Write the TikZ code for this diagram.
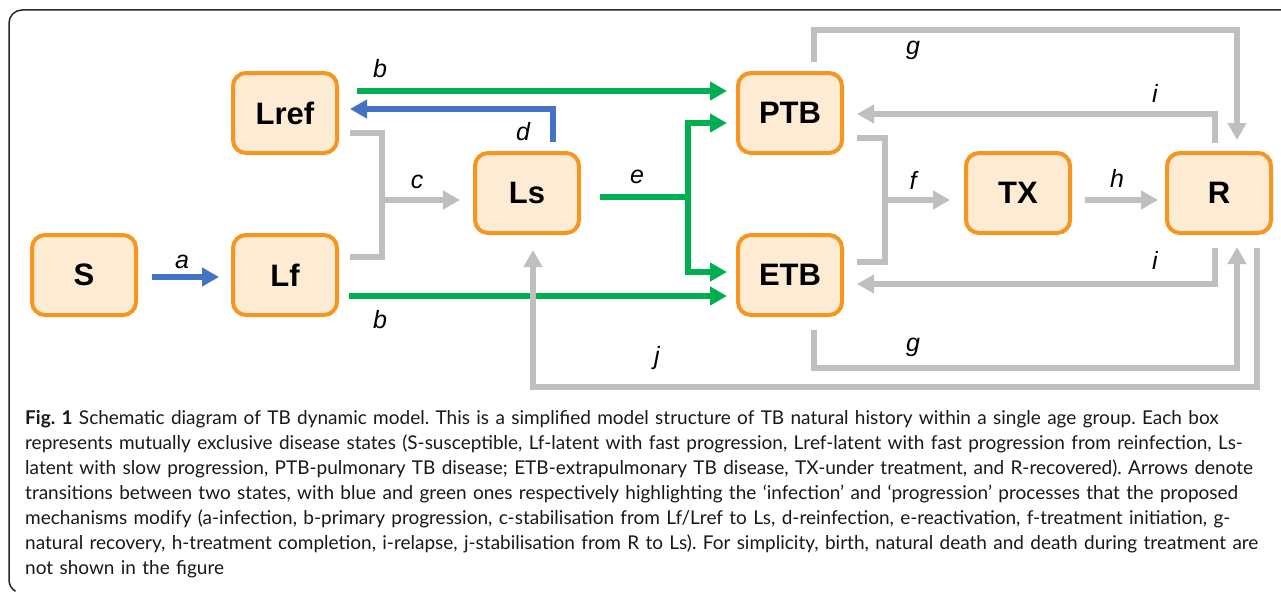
\documentclass[tikz,border=0pt]{standalone}
\usepackage{fontspec}
\setmainfont{Lato}
\newfontfamily\arialf{Liberation Sans}
\usetikzlibrary{arrows.meta,calc}
\definecolor{boxorange}{RGB}{247,150,30}
\definecolor{boxfill}{RGB}{253,235,212}
\definecolor{tbgreen}{RGB}{0,176,80}
\definecolor{tbblue}{RGB}{68,114,196}
\definecolor{tbgray}{RGB}{191,191,191}
\begin{document}
\frenchspacing
\begin{tikzpicture}[x=1pt,y=-1pt,
  state/.style={draw=boxorange, fill=boxfill, line width=4pt, rounded corners=13pt,
    minimum width=104pt, minimum height=80pt, inner sep=0pt,
    font=\arialf\bfseries\fontsize{31}{31}\selectfont},
  conn/.style={line width=6pt},
  tip/.style={-{Triangle[length=17pt,width=18pt]}},
  lbl/.style={font=\arialf\itshape\fontsize{25}{25}\selectfont, inner sep=0pt},
]
\fill[white] (0,0) rectangle (1281,594);
\useasboundingbox (0,0) rectangle (1281,594);

% frame
\draw[line width=1.5pt, black!85] (1281,10) -- (22,10)
  arc[start angle=270, end angle=180, radius=13] -- (9,580)
  arc[start angle=180, end angle=120, radius=13];

% states
\node[state] (S)    at (84,275)   {S};
\node[state] (Lf)   at (285,275)  {Lf};
\node[state] (Lref) at (285,113)  {Lref};
\node[state] (Ls)   at (527,193)  {Ls};
\node[state] (PTB)  at (790,113)  {PTB};
\node[state] (ETB)  at (790,275)  {ETB};
\node[state] (TX)   at (1018,193) {TX};
\node[state] (R)    at (1219,193) {R};

% a
\draw[conn,tbblue,tip] ($(S.east)+(14,2)$) -- ($(Lf.west)+(-12,2)$);
% b
\draw[conn,tbgreen,tip] ($(Lref.east)+(18,-22)$) -- ($(PTB.west)+(-9,-22)$);
\draw[conn,tbgreen,tip] ($(Lf.east)+(10,21)$) -- ($(ETB.west)+(-9,21)$);
% d
\draw[conn,tbblue,tip] ($(Ls.north)+(26,-9)$) |- ($(Lref.east)+(11,-4)$);
% c
\coordinate (cj) at ($(Ls.west)+(-91,7)$);
\draw[conn,tbgray] ($(Lref.east)+(11,20)$) -| (cj) |- ($(Lf.east)+(11,-18)$);
\draw[conn,tbgray,tip] (cj) -- ($(Ls.west)+(-13,7)$);
% e
\coordinate (ej) at ($(Ls.east)+(107,4)$);
\draw[conn,tbgreen] ($(Ls.east)+(19,4)$) -- (ej);
\draw[conn,tbgreen,tip] (ej) |- ($(PTB.west)+(-9,10)$);
\draw[conn,tbgreen,tip] (ej) |- ($(ETB.west)+(-9,-3)$);
% f
\coordinate (fj) at ($(TX.west)+(-79,7)$);
\draw[conn,tbgray] ($(PTB.east)+(13,25)$) -| (fj) |- ($(ETB.east)+(13,-13)$);
\draw[conn,tbgray,tip] (fj) -- ($(TX.west)+(-14,7)$);
% h
\draw[conn,tbgray,tip] ($(TX.east)+(13,7)$) -- ($(R.west)+(-7,7)$);
% g
\draw[conn,tbgray,tip] ($(PTB.north)+(24,-9)$) -- ++(0,-32) -| ($(R.north)+(18,-11)$);
\draw[conn,tbgray,tip] ($(ETB.south)+(24,13)$) -- ++(0,38) -| ($(R.south)+(18,12)$);
% i
\draw[conn,tbgray,tip] ($(R.north)+(-4,-8)$) |- ($(PTB.east)+(13,1)$);
\draw[conn,tbgray,tip] ($(R.south)+(-4,13)$) |- ($(ETB.east)+(13,9)$);
% j
\draw[conn,tbgray,tip] ($(R.south)+(38,13)$) -- ++(0,139) -| ($(Ls.south)+(6,15)$);

% labels
\node[lbl] (la)  at (182,262) {a};
\node[lbl] (lb1) at (380,69)  {b};
\node[lbl] (lb2) at (380,320) {b};
\node[lbl] (lc)  at (417,182) {c};
\node[lbl] (ld)  at (523,132) {d};
\node[lbl] (le)  at (637,177) {e};
\node[lbl] (lf)  at (913,180) {f};
\node[lbl] (lg1) at (913,50)  {g};
\node[lbl] (lg2) at (913,347) {g};
\node[lbl] (lh)  at (1117,178) {h};
\node[lbl] (li1) at (1155,93) {i};
\node[lbl] (li2) at (1155,260) {i};
\node[lbl] (lj)  at (657,358) {j};

% caption
\node[anchor=north west, inner sep=0pt, align=left, text width=1255pt,
  font=\fontsize{19}{25}\selectfont, text=black!90] (cap) at (25,410) {%
\makebox[1213pt][s]{{\bfseries Fig. 1} Schematic diagram of TB dynamic model. This is a simplified model structure of TB natural history within a single age group. Each box}\\
\makebox[1219pt][s]{represents mutually exclusive disease states (S-susceptible, Lf-latent with fast progression, Lref-latent with fast progression from reinfection, Ls-}\\
\makebox[1221pt][s]{latent with slow progression, PTB-pulmonary TB disease; ETB-extrapulmonary TB disease, TX-under treatment, and R-recovered). Arrows denote}\\
\makebox[1233pt][s]{transitions between two states, with blue and green ones respectively highlighting the ‘infection’ and ‘progression’ processes that the proposed}\\
\makebox[1204pt][s]{mechanisms modify (a-infection, b-primary progression, c-stabilisation from Lf/Lref to Ls, d-reinfection, e-reactivation, f-treatment initiation, g-}\\
\makebox[1234pt][s]{natural recovery, h-treatment completion, i-relapse, j-stabilisation from R to Ls). For simplicity, birth, natural death and death during treatment are}\\
not shown in the figure};
\end{tikzpicture}
\end{document}
